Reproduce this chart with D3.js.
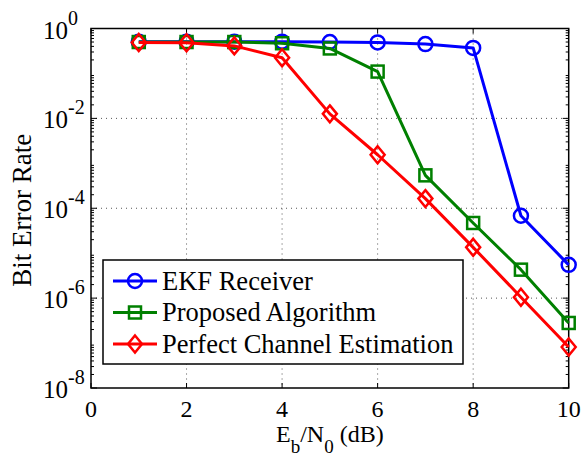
<!DOCTYPE html>
<html>
<head>
<meta charset="utf-8">
<script src="https://cdn.jsdelivr.net/npm/d3@7"></script>
<style>
  body { margin: 0; background: #fff; }
  svg { display: block; font-family: "Liberation Serif", "DejaVu Serif", serif; }
</style>
</head>
<body>
<div id="chart"></div>
<script>
const snr = [1, 2, 3, 4, 5, 6, 7, 8, 9, 10]
const ekf = [0.51, 0.51, 0.51, 0.51, 0.5, 0.49, 0.45, 0.37, 6.8e-5, 5.5e-6]
const proposed = [0.5, 0.5, 0.5, 0.47, 0.36, 0.11, 5.4e-4, 4.7e-5, 4.3e-6, 2.8e-7]
const perfect = [0.49, 0.48, 0.41, 0.224, 0.0126, 1.55e-3, 1.64e-4, 1.35e-5, 1.05e-6, 8.2e-8]

const xTicks = [0, 2, 4, 6, 8, 10]
const yExps = [0, -2, -4, -6, -8]
const seriesNames = ['EKF Receiver', 'Proposed Algorithm', 'Perfect Channel Estimation']

const width = 584, height = 459
const margin = { top: 28.5, right: 15.3, bottom: 71, left: 91 }
const iw = width - margin.left - margin.right
const ih = height - margin.top - margin.bottom

const series = [
  { name: seriesNames[0], values: ekf, color: '#0000ff', marker: 'circle' },
  { name: seriesNames[1], values: proposed, color: '#008000', marker: 'square' },
  { name: seriesNames[2], values: perfect, color: '#ff0000', marker: 'diamond' }
]

const svg = d3.select('#chart').append('svg')
  .attr('width', width)
  .attr('height', height)

const g = svg.append('g')
  .attr('transform', `translate(${margin.left},${margin.top})`)

const x = d3.scaleLinear().domain([0, 10]).range([0, iw])
const y = d3.scaleLog().domain([1e-8, 1]).range([ih, 0])

// dotted grid
const gridColor = '#555'
g.selectAll('.vgrid')
  .data(xTicks.filter(d => d > 0 && d < 10))
  .join('line')
  .attr('x1', d => x(d)).attr('x2', d => x(d))
  .attr('y1', 0).attr('y2', ih)
  .attr('stroke', gridColor).attr('stroke-width', 1)
  .attr('stroke-dasharray', '1,4')

g.selectAll('.hgrid')
  .data(yExps.filter(e => e < 0 && e > -8))
  .join('line')
  .attr('x1', 0).attr('x2', iw)
  .attr('y1', e => y(Math.pow(10, e))).attr('y2', e => y(Math.pow(10, e)))
  .attr('stroke', gridColor).attr('stroke-width', 1)
  .attr('stroke-dasharray', '1,4')

// inner ticks on all sides
const ticks = g.append('g').attr('stroke', '#000').attr('stroke-width', 1)
xTicks.forEach(t => {
  ticks.append('line').attr('x1', x(t)).attr('x2', x(t)).attr('y1', ih).attr('y2', ih - 5)
  ticks.append('line').attr('x1', x(t)).attr('x2', x(t)).attr('y1', 0).attr('y2', 5)
})
const minor = []
for (let e = -8; e < 0; e++) for (let m = 2; m <= 9; m++) minor.push(m * Math.pow(10, e))
minor.forEach(v => {
  ticks.append('line').attr('x1', 0).attr('x2', 3).attr('y1', y(v)).attr('y2', y(v))
  ticks.append('line').attr('x1', iw).attr('x2', iw - 3).attr('y1', y(v)).attr('y2', y(v))
})
yExps.forEach(e => {
  const v = Math.pow(10, e)
  ticks.append('line').attr('x1', 0).attr('x2', 6).attr('y1', y(v)).attr('y2', y(v))
  ticks.append('line').attr('x1', iw).attr('x2', iw - 6).attr('y1', y(v)).attr('y2', y(v))
})

// box
g.append('rect')
  .attr('width', iw).attr('height', ih)
  .attr('fill', 'none').attr('stroke', '#000').attr('stroke-width', 1.5)

// x tick labels
g.selectAll('.xlab')
  .data(xTicks)
  .join('text')
  .attr('x', d => x(d))
  .attr('y', ih + 29)
  .attr('text-anchor', 'middle')
  .attr('font-size', 24)
  .text(d => d)

// y tick labels 10^n
yExps.forEach(e => {
  const yy = y(Math.pow(10, e))
  const t = svg.append('text')
    .attr('font-size', 25)
  t.append('tspan').attr('x', 68 - 25).attr('y', margin.top + yy + 10).text('10')
  t.append('tspan').attr('x', 68).attr('y', margin.top + yy - 4).attr('font-size', 20).text(e === 0 ? '0' : '-' + Math.abs(e))
})

// axis labels
const xl = svg.append('text')
  .attr('x', margin.left + iw / 2)
  .attr('y', 442)
  .attr('text-anchor', 'middle')
  .attr('font-size', 24)
xl.append('tspan').text('E')
xl.append('tspan').attr('dy', 11).attr('font-size', 19).text('b')
xl.append('tspan').attr('dy', -11).text('/N')
xl.append('tspan').attr('dy', 11).attr('font-size', 19).text('0')
xl.append('tspan').attr('dy', -11).text(' (dB)')

svg.append('text')
  .attr('transform', `translate(31,${margin.top + ih / 2 + 2}) rotate(-90)`)
  .attr('text-anchor', 'middle')
  .attr('font-size', 27)
  .text('Bit Error Rate')

// markers
function drawMarker(sel, type, color) {
  if (type === 'circle') {
    sel.append('circle').attr('r', 7)
      .attr('fill', 'none').attr('stroke', color).attr('stroke-width', 2.5)
  } else if (type === 'square') {
    sel.append('rect').attr('x', -6).attr('y', -6).attr('width', 12).attr('height', 12)
      .attr('fill', 'none').attr('stroke', color).attr('stroke-width', 2.5)
  } else {
    sel.append('path').attr('d', 'M0,-8.5L7,0L0,8.5L-7,0Z')
      .attr('fill', 'none').attr('stroke', color).attr('stroke-width', 2.5)
  }
}

const line = d3.line()
  .x((d, i) => x(snr[i]))
  .y(d => y(d))

series.forEach(s => {
  g.append('path')
    .datum(s.values)
    .attr('d', line)
    .attr('fill', 'none')
    .attr('stroke', s.color)
    .attr('stroke-width', 3)
    .attr('stroke-linejoin', 'round')

  s.values.forEach((v, i) => {
    const m = g.append('g').attr('transform', `translate(${x(snr[i])},${y(v)})`)
    drawMarker(m, s.marker, s.color)
  })
})

// legend
const legend = svg.append('g').attr('transform', 'translate(103,260)')
legend.append('rect')
  .attr('width', 360).attr('height', 104)
  .attr('fill', '#fff').attr('stroke', '#000').attr('stroke-width', 1.5)

series.forEach((s, i) => {
  const row = legend.append('g').attr('transform', `translate(0,${21 + i * 31.5})`)
  row.append('line').attr('x1', 10).attr('x2', 54).attr('y1', 0).attr('y2', 0)
    .attr('stroke', s.color).attr('stroke-width', 3)
  const m = row.append('g').attr('transform', 'translate(32,0)')
  drawMarker(m, s.marker, s.color)
  row.append('text')
    .attr('x', 59).attr('y', 8.5)
    .attr('font-size', 26.5)
    .text(s.name)
})
</script>
</body>
</html>
